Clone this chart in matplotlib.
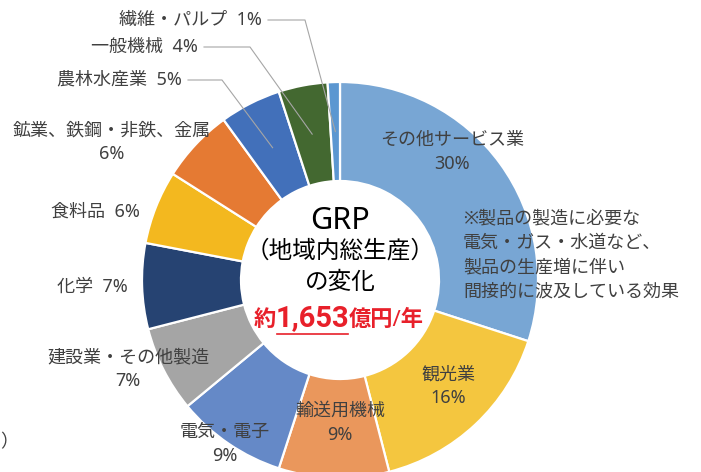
import numpy as np
import matplotlib.pyplot as plt

plt.rcParams['font.family'] = ['Noto Sans', 'Noto Sans CJK JP', 'DejaVu Sans']

# data, clockwise from 12 o'clock
sectors = ["その他サービス業", "観光業", "輸送用機械", "電気・電子", "建設業・その他製造",
           "化学", "食料品", "鉱業、鉄鋼・非鉄、金属", "農林水産業", "一般機械", "繊維・パルプ"]
shares = [30, 16, 9, 9, 7, 7, 6, 6, 5, 4, 1]
colors = ["#78A6D4", "#F4C63F", "#EA975C", "#6589C7", "#A5A5A5",
          "#264372", "#F3B81F", "#E57A33", "#4270BA", "#436830", "#5B97D1"]

W, H = 701, 472
cx, cy, R = 340, 280, 198
txt = "#404040"

fig = plt.figure(figsize=(W / 100, H / 100), dpi=100)
ax = fig.add_axes([0, 0, 1, 1])

# y axis is flipped below (pixel coords from top), so data-ccw == visual clockwise
wedges, _ = ax.pie(shares, colors=colors, radius=R, center=(cx, cy),
                   startangle=-90, counterclock=True,
                   wedgeprops=dict(width=R * 0.5, edgecolor="white", linewidth=1.6))
ax.set_xlim(0, W)
ax.set_ylim(H, 0)
ax.set_aspect("equal")
ax.axis("off")


def anchor(w, frac=0.75):
    a = np.deg2rad((w.theta1 + w.theta2) / 2)
    return cx + frac * R * np.cos(a), cy + frac * R * np.sin(a)


fs = 13
lab = dict(ha="center", va="center", fontsize=fs, color=txt)

# labels inside / next to slices
ax.text(452, 152, f"{sectors[0]}\n{shares[0]}%", linespacing=1.4, **lab)
ax.text(448, 386, f"{sectors[1]}\n{shares[1]}%", linespacing=1.4, **lab)
ax.text(340, 423, f"{sectors[2]}\n{shares[2]}%", linespacing=1.4, **lab)
ax.text(225, 444, f"{sectors[3]}\n{shares[3]}%", linespacing=1.4, **lab)
ax.text(128, 369, f"{sectors[4]}\n{shares[4]}%", linespacing=1.4, **lab)
ax.text(92, 287, f"{sectors[5]}  {shares[5]}%", **lab)
ax.text(95, 212, f"{sectors[6]}  {shares[6]}%", **lab)
ax.text(112, 142, f"{sectors[7]}\n{shares[7]}%", linespacing=1.4, **lab)

# labels with leader lines (small slices)
leaders = [(8, 182, 80, 222), (9, 198, 47, 250), (10, 262, 20, 305)]
for i, xend, y, knee in leaders:
    ax.text(xend, y, f"{sectors[i]}  {shares[i]}%", ha="right", va="center",
            fontsize=fs, color=txt)
    ax_, ay_ = anchor(wedges[i])
    ax.plot([xend + 6, knee, ax_], [y, y, ay_], color="#A6A6A6", lw=0.8)

# note
note = ["※製品の製造に必要な", "電気・ガス・水道など、", "製品の生産増に伴い", "間接的に波及している効果"]
for k, line in enumerate(note):
    ax.text(463, 218 + k * 24.5, line, ha="left", va="center", fontsize=13, color=txt)

# centre text
ax.text(cx, 221, "GRP", ha="center", va="center", fontsize=22, color="black")
ax.text(cx, 252, "（地域内総生産）", ha="center", va="center", fontsize=17, color="black")
ax.text(cx, 283, "の変化", ha="center", va="center", fontsize=17, color="black")
red = "#E8202A"
ax.text(276, 320, "約", ha="right", va="center", fontsize=16, color=red, fontweight="bold")
ax.text(312, 318, "1,653", ha="center", va="center", fontsize=21, color=red,
        fontweight="bold", family=["Roboto", "DejaVu Sans"])
ax.text(349, 320, "億円/年", ha="left", va="center", fontsize=16, color=red, fontweight="bold")
ax.plot([277, 348], [334, 334], color=red, lw=1.2)

# clipped fragment at the left edge
ax.text(0, 442, "）", ha="left", va="center", fontsize=fs, color=txt)

fig.savefig("out.png", dpi=100)
